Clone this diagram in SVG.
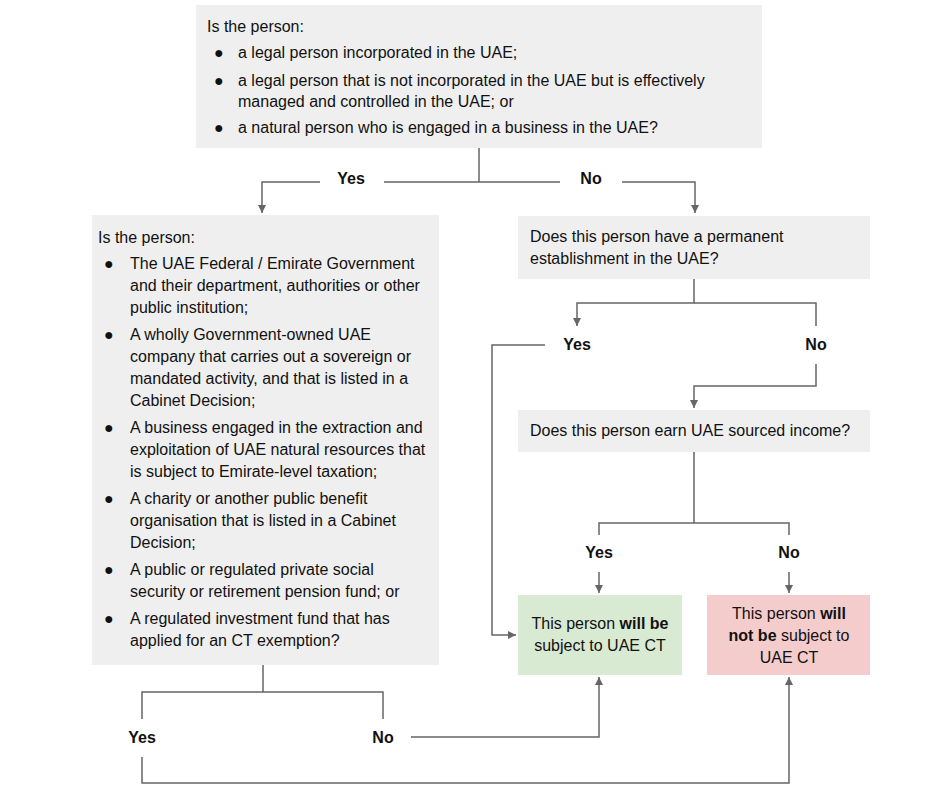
<svg xmlns="http://www.w3.org/2000/svg" width="947" height="803" viewBox="0 0 947 803">
<defs>
<marker id="ah" viewBox="0 0 10 10" refX="10" refY="5" markerWidth="8" markerHeight="8" markerUnits="userSpaceOnUse" orient="auto">
<path d="M0,0 L10,5 L0,10 z" fill="#666"/>
</marker>
</defs>
<style>
text{font-family:"Liberation Sans",Arial,sans-serif;font-size:16px;fill:#111}
.b{font-weight:bold}
.lbl{font-weight:bold;text-anchor:middle}
.c{text-anchor:middle}
.gray{fill:#efefef}
.line{fill:none;stroke:#666;stroke-width:1.5}
</style>
<rect width="947" height="803" fill="#fff"/>
<g id="connectors">
<path class="line" d="M479,148 V182 M479,182 H384 M320,182 H262 V213" marker-end="url(#ah)"/>
<path class="line" d="M479,182 H560 M622,182 H695 V213" marker-end="url(#ah)"/>
<path class="line" d="M694,279 V303 H577 V326" marker-end="url(#ah)"/>
<path class="line" d="M694,303 H816 V326"/>
<path class="line" d="M545,345 H492 V635 H516" marker-end="url(#ah)"/>
<path class="line" d="M816,364 V386 H694 V408" marker-end="url(#ah)"/>
<path class="line" d="M694,452 V523 H599 V535 M694,523 H789 V535"/>
<path class="line" d="M599,572 V593" marker-end="url(#ah)"/>
<path class="line" d="M789,572 V593" marker-end="url(#ah)"/>
<path class="line" d="M263,665 V692 H142 V719 M263,692 H383 V719"/>
<path class="line" d="M411,737 H599 V677" marker-end="url(#ah)"/>
<path class="line" d="M142,757 V783 H789 V677" marker-end="url(#ah)"/>
</g>
<g id="labels">
<text class="lbl" x="351" y="184">Yes</text>
<text class="lbl" x="591" y="184">No</text>
<text class="lbl" x="577" y="350">Yes</text>
<text class="lbl" x="816" y="350">No</text>
<text class="lbl" x="599" y="558">Yes</text>
<text class="lbl" x="789" y="558">No</text>
<text class="lbl" x="142" y="743">Yes</text>
<text class="lbl" x="383" y="743">No</text>
</g>
<g id="node-q1">
<rect class="gray" x="196" y="5" width="566" height="143"/>
<text x="207" y="32">Is the person:</text>
<text x="214" y="58">●</text><text x="238" y="58">a legal person incorporated in the UAE;</text>
<text x="214" y="86">●</text><text x="238" y="86">a legal person that is not incorporated in the UAE but is effectively</text>
<text x="238" y="107">managed and controlled in the UAE; or</text>
<text x="214" y="133">●</text><text x="238" y="133">a natural person who is engaged in a business in the UAE?</text>
</g>
<g id="node-exempt">
<rect class="gray" x="92" y="215" width="347" height="450"/>
<text x="98" y="243">Is the person:</text>
<text x="104" y="269">●</text><text x="130" y="269">The UAE Federal / Emirate Government</text>
<text x="130" y="291">and their department, authorities or other</text>
<text x="130" y="313">public institution;</text>
<text x="104" y="340">●</text><text x="130" y="340">A wholly Government-owned UAE</text>
<text x="130" y="362">company that carries out a sovereign or</text>
<text x="130" y="384">mandated activity, and that is listed in a</text>
<text x="130" y="406">Cabinet Decision;</text>
<text x="104" y="433">●</text><text x="130" y="433">A business engaged in the extraction and</text>
<text x="130" y="455">exploitation of UAE natural resources that</text>
<text x="130" y="477">is subject to Emirate-level taxation;</text>
<text x="104" y="504">●</text><text x="130" y="504">A charity or another public benefit</text>
<text x="130" y="526">organisation that is listed in a Cabinet</text>
<text x="130" y="548">Decision;</text>
<text x="104" y="575">●</text><text x="130" y="575">A public or regulated private social</text>
<text x="130" y="597">security or retirement pension fund; or</text>
<text x="104" y="624">●</text><text x="130" y="624">A regulated investment fund that has</text>
<text x="130" y="646">applied for an CT exemption?</text>
</g>
<g id="node-pe">
<rect class="gray" x="518" y="216" width="352" height="63"/>
<text x="530" y="242">Does this person have a permanent</text>
<text x="530" y="264">establishment in the UAE?</text>
</g>
<g id="node-income">
<rect class="gray" x="518" y="410" width="352" height="42"/>
<text x="530" y="436">Does this person earn UAE sourced income?</text>
</g>
<g id="node-subject">
<rect x="518" y="595" width="164" height="80" fill="#d9ead3"/>
<text class="c" x="600" y="629">This person <tspan class="b">will be</tspan></text>
<text class="c" x="600" y="651">subject to UAE CT</text>
</g>
<g id="node-notsubject">
<rect x="707" y="595" width="163" height="80" fill="#f4cccc"/>
<text class="c" x="789" y="619">This person <tspan class="b">will</tspan></text>
<text class="c" x="789" y="641"><tspan class="b">not be</tspan> subject to</text>
<text class="c" x="789" y="663">UAE CT</text>
</g>
</svg>
